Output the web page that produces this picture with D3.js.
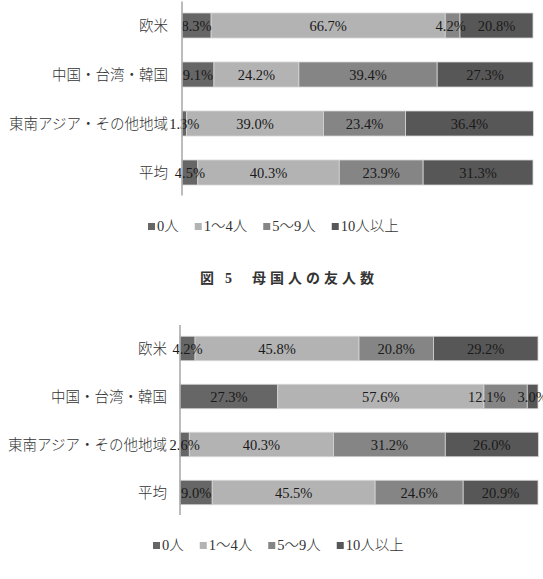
<!DOCTYPE html>
<html><head><meta charset="utf-8">
<script src="https://cdn.jsdelivr.net/npm/d3@7"></script>
<style>
html,body{margin:0;padding:0;background:#fff;}
svg{display:block;}
</style></head>
<body>
<script>
const categories = ["欧米","中国・台湾・韓国","東南アジア・その他地域","平均"];
const seriesNames = ["0人","1〜4人","5〜9人","10人以上"];
const seriesColors = ["#666666","#b3b3b3","#858585","#575757"];
// chart 1 (top)
const chart1Values = [
  [8.3, 66.7, 4.2, 20.8],
  [9.1, 24.2, 39.4, 27.3],
  [1.3, 39.0, 23.4, 36.4],
  [4.5, 40.3, 23.9, 31.3]
];
// chart 2 (bottom)
const chart2Values = [
  [4.2, 45.8, 20.8, 29.2],
  [27.3, 57.6, 12.1, 3.0],
  [2.6, 40.3, 31.2, 26.0],
  [9.0, 45.5, 24.6, 20.9]
];
const captionParts = ["図","5","母国人の友人数"];

const FONT = '"Liberation Serif","Times New Roman",Tinos,"DejaVu Serif","Noto Sans CJK JP",serif';
const W = 543, H = 579;
const svg = d3.select("body").append("svg").attr("width", W).attr("height", H);

function drawChart(values, cfg) {
  const g = svg.append("g");
  const x = d3.scaleLinear().domain([0, 100]).range([cfg.x0, cfg.x1]);
  const y = d3.scaleBand().domain(categories).range([cfg.y0, cfg.y1]).padding(0);
  const frac = 0.51;
  const bh = y.bandwidth() * frac;
  const off = y.bandwidth() * (1 - frac) / 2;

  categories.forEach((c, i) => {
    let cum = 0;
    const segs = values[i].map((v, j) => { const s = {v, j, start: cum}; cum += v; return s; });
    const row = g.append("g");
    row.selectAll("rect").data(segs).join("rect")
      .attr("x", d => x(d.start))
      .attr("y", y(c) + off)
      .attr("width", d => x(d.start + d.v) - x(d.start))
      .attr("height", bh)
      .attr("fill", d => seriesColors[d.j])
      .attr("stroke", "#d6d6d6")
      .attr("stroke-width", 0.8);
    const labels = row.selectAll("text").data(segs).join("text")
      .attr("x", d => x(d.start + d.v / 2))
      .attr("y", y(c) + y.bandwidth() / 2 + 5)
      .attr("text-anchor", "middle")
      .attr("font-size", "14.5px")
      .style("font-family", FONT)
      .attr("fill", "#1a1a1a")
      .text(d => d.v.toFixed(1) + "%");
    // nudge a label left when it would collide with the next one
    const nodes = labels.nodes();
    for (let k = nodes.length - 2; k >= 0; k--) {
      const a = nodes[k].getBBox(), b = nodes[k + 1].getBBox();
      const overlap = a.x + a.width + 12 - b.x;
      if (overlap > 0) {
        nodes[k].setAttribute("x", +nodes[k].getAttribute("x") - overlap);
      }
    }
  });

  // category axis
  const ax = g.append("g").attr("transform", `translate(${cfg.x0},0)`)
    .call(d3.axisLeft(y).tickSize(0).tickPadding(cfg.labelPad));
  ax.select(".domain").attr("stroke", "#a6a6a6").attr("stroke-width", 1.5)
    .attr("d", `M0,${cfg.y0 + 0.5}V${cfg.y1 - 1.5}`);
  ax.selectAll(".tick text")
    .attr("font-size", "14.5px")
    .attr("fill", "#333")
    .attr("font-weight", 300)
    .attr("dy", "0.35em")
    .style("font-family", FONT);

  // legend
  const leg = g.append("g").attr("transform", `translate(${cfg.legX},${cfg.legY})`);
  let lx = 0;
  seriesNames.forEach((n, j) => {
    leg.append("rect").attr("x", lx).attr("y", -8).attr("width", 7).attr("height", 7)
      .attr("fill", seriesColors[j]);
    const t = leg.append("text").attr("x", lx + 9).attr("y", 0)
      .attr("font-size", "14.5px").attr("fill", "#333").attr("font-weight", 300)
      .style("font-family", FONT).text(n);
    lx += 9 + t.node().getComputedTextLength() + 16;
  });
}

drawChart(chart1Values, {x0: 182, x1: 533, y0: 1, y1: 197, labelPad: 14, legX: 148, legY: 231});
drawChart(chart2Values, {x0: 180, x1: 538, y0: 324.5, y1: 516.5, labelPad: 13, legX: 153, legY: 550});

// caption
const cap = svg.append("g").attr("font-size", "14px").attr("font-weight", "bold").attr("fill", "#333")
  .style("font-family", FONT);
cap.append("text").attr("x", 200).attr("y", 283).text(captionParts[0]);
cap.append("text").attr("x", 225).attr("y", 283).text(captionParts[1]);
cap.append("text").attr("x", 252).attr("y", 283).attr("letter-spacing", "4px").text(captionParts[2]);
</script>
</body></html>
